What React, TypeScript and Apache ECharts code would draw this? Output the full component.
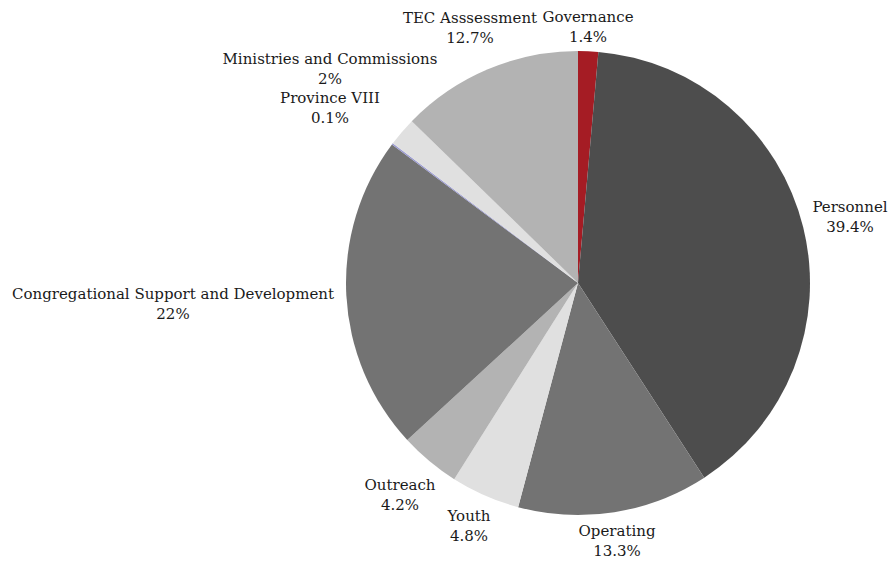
import React, { useEffect, useRef } from "react";
import * as echarts from "echarts";

const categories = [
  "Governance",
  "Personnel",
  "Operating",
  "Youth",
  "Outreach",
  "Congregational Support and Development",
  "Province VIII",
  "Ministries and Commissions",
  "TEC Asssessment",
];
const values = [1.4, 39.4, 13.3, 4.8, 4.2, 22, 0.1, 2, 12.7];
const colors = ["#a51c24", "#4d4d4d", "#737373", "#e0e0e0", "#b3b3b3", "#737373", "#9a9ad0", "#e0e0e0", "#b3b3b3"];
// label block centres (layout only)
const labelPos: [number, number][] = [
  [588, 27],
  [850, 217],
  [617, 541],
  [469, 526],
  [400, 495],
  [173, 304],
  [330, 108],
  [330, 69],
  [470, 28],
];

export default function App() {
  const ref = useRef<HTMLDivElement>(null);
  useEffect(() => {
    const chart = echarts.init(ref.current!, undefined, { renderer: "svg" });
    chart.setOption({
      animation: false,
      series: [
        {
          type: "pie",
          center: [578, 283],
          radius: 232,
          startAngle: 90,
          clockwise: true,
          avoidLabelOverlap: false,
          data: categories.map((c, i) => ({
            name: c,
            value: values[i],
            itemStyle: { color: colors[i] },
          })),
          label: {
            show: true,
            position: "outside",
            formatter: (p: any) => `${p.name}\n${p.value}%`,
            fontFamily: "DejaVu Serif",
            fontSize: 15,
            lineHeight: 20,
            color: "#1a1a1a",
            align: "center",
          },
          labelLine: { show: false },
          labelLayout: (params: any) => ({
            x: labelPos[params.dataIndex][0],
            y: labelPos[params.dataIndex][1],
            align: "center",
            verticalAlign: "middle",
          }),
          emphasis: { disabled: true },
        },
      ],
    });
    return () => chart.dispose();
  }, []);
  return (
    <div
      ref={ref}
      style={{ position: "absolute", left: 0, top: 0, width: 888, height: 563, background: "#fff" }}
    />
  );
}
